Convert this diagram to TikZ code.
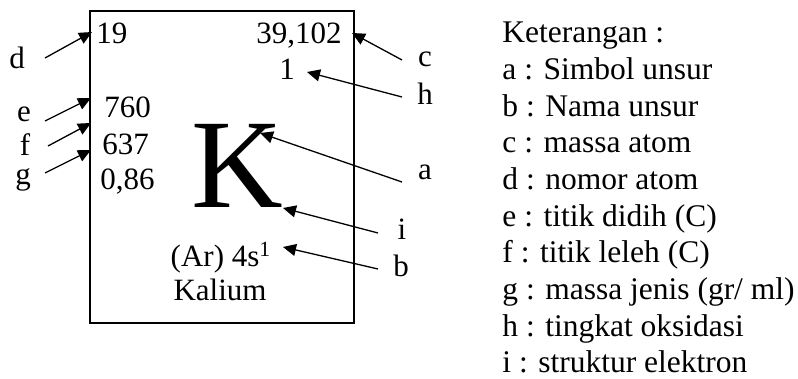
\documentclass[tikz,border=0pt]{standalone}
\usepackage{fontspec}
\setmainfont{Liberation Serif}
\usetikzlibrary{arrows.meta}
\tikzset{
  pointer/.style={-{Triangle[length=6.5pt,width=6pt]},line width=0.65pt},
  cell/.style={draw,line width=0.75pt,inner sep=0pt,minimum width=132pt,minimum height=156pt},
  celltext/.style={inner sep=0pt,anchor=base,font=\fontsize{15.5}{18}\selectfont},
  symbol/.style={inner sep=0pt,anchor=base,font=\fontsize{63.5}{70}\selectfont},
  tag/.style={inner sep=0pt,anchor=base,font=\fontsize{15.5}{18}\selectfont},
  legend/.style={inner sep=0pt,anchor=base west,font=\fontsize{15.75}{18}\selectfont}
}
\begin{document}
\begin{tikzpicture}[x=0.5pt,y=-0.5pt]
  \useasboundingbox (0,0) rectangle (798,379);
  % element cell
  \node[cell] (box) at (222,167) {};
  \node[celltext,anchor=base west] (number) at (96,44) {19};
  \node[celltext,anchor=base east] (mass) at (342,44) {39,102};
  \node[celltext] (ox) at (287,80) {1};
  \node[celltext,anchor=base west] (boil) at (104,118) {760};
  \node[celltext,anchor=base west] (melt) at (102,155) {637};
  \node[celltext,anchor=base west] (dens) at (100,190) {0,86};
  \node[symbol] (sym) at (237,208) {K};
  \node[celltext] (config) at (221,267) {(Ar) 4s\textsuperscript{1}};
  \node[celltext] (name) at (220,300) {Kalium};
  % letter tags
  \node[tag] (d) at (17,69) {d};
  \node[tag] (e) at (24,122) {e};
  \node[tag] (f) at (25,156) {f};
  \node[tag] (g) at (23,185) {g};
  \node[tag] (c) at (425,67) {c};
  \node[tag] (h) at (425,105) {h};
  \node[tag] (a) at (425,180) {a};
  \node[tag] (i) at (402,240) {i};
  \node[tag] (b) at (401,277) {b};
  % pointers
  \foreach \n/\tx/\ty/\hx/\hy in {d/45/58/92/32, e/45/121/91/98, f/48/146/91/123,
      g/45/173/91/150, c/402/60/352/33, h/402/97/307/72, a/402/182/260/133,
      i/378/233/283/208, b/378/269/283/247}{
    \coordinate (\n-tail) at (\tx,\ty);
    \coordinate (\n-tip) at (\hx,\hy);
    \draw[pointer] (\n-tail) -- (\n-tip);
  }
  % legend
  \foreach \entry [count=\k from 0] in {Keterangan :, a : Simbol unsur, b : Nama unsur,
      c : massa atom, d : nomor atom, e : titik didih (C), f : titik leleh (C),
      g : massa jenis (gr/ ml), h : tingkat oksidasi, i : struktur elektron}
    \node[legend] (key\k) at (502,43+36.65*\k) {\entry};
\end{tikzpicture}
\end{document}
